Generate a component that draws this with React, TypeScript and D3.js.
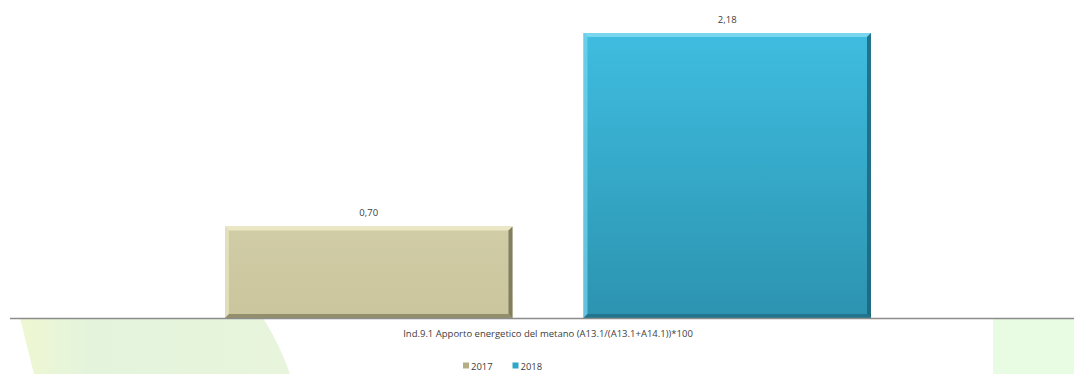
import React from "react";
import * as d3 from "d3";

const years = ["2017", "2018"];
const values = [0.7, 2.18];
const labels = ["0,70", "2,18"];
const category = "Ind.9.1 Apporto energetico del metano (A13.1/(A13.1+A14.1))*100";

const W = 1074;
const H = 374;
const FONT = "'Open Sans', 'Liberation Sans', sans-serif";

const palette: Record<string, { top: string; bottom: string; light: string; dark: string; legend: string }> = {
  "2017": { top: "#d0cca6", bottom: "#cac59c", light: "#ebe7c4", dark: "#6e6b4f", legend: "#b3ae86" },
  "2018": { top: "#3fbde0", bottom: "#2c93b0", light: "#7ad6ef", dark: "#1d6076", legend: "#2fa7c8" },
};

export default function App() {
  const x = d3.scaleBand<string>().domain(years).range([225, 871]).paddingInner(71 / 358.5);
  const y = d3.scaleLinear().domain([0, 2.18]).range([318, 33]);
  const b = 4;

  return (
    <svg width={W} height={H} style={{ position: "absolute", left: 0, top: 0, display: "block" }}>
      <defs>
        {years.map((yr) => (
          <linearGradient key={yr} id={`g${yr}`} x1="0" y1="0" x2="0" y2="1">
            <stop offset="0" stopColor={palette[yr].top} />
            <stop offset="1" stopColor={palette[yr].bottom} />
          </linearGradient>
        ))}
        <linearGradient id="gleft" x1="0" y1="0" x2="1" y2="0">
          <stop offset="0" stopColor="#eef7d2" />
          <stop offset="0.25" stopColor="#e4f4dc" />
          <stop offset="1" stopColor="#e8f5dc" />
        </linearGradient>
      </defs>
      <rect x={0} y={0} width={W} height={H} fill="#ffffff" />
      {/* background decoration */}
      <path d="M20,318 L263,318 Q280,345 290,374 L34,374 Z" fill="url(#gleft)" />
      <rect x={993} y={318} width={81} height={56} fill="#e8fbe3" />

      {/* bars */}
      {years.map((yr, i) => {
        const x0 = x(yr)!;
        const w = x.bandwidth();
        const y0 = y(values[i]);
        const y1 = y(0);
        const p = palette[yr];
        return (
          <g key={yr}>
            <rect x={x0} y={y0} width={w} height={y1 - y0} fill={`url(#g${yr})`} />
            <polygon points={`${x0},${y0} ${x0 + w},${y0} ${x0 + w - b},${y0 + b} ${x0 + b},${y0 + b}`} fill={p.light} />
            <polygon points={`${x0},${y0} ${x0 + b},${y0 + b} ${x0 + b},${y1 - b} ${x0},${y1}`} fill={p.light} opacity={0.7} />
            <polygon points={`${x0 + w},${y0} ${x0 + w},${y1} ${x0 + w - b},${y1 - b} ${x0 + w - b},${y0 + b}`} fill={p.dark} opacity={0.8} />
            <polygon points={`${x0},${y1} ${x0 + w},${y1} ${x0 + w - b},${y1 - b} ${x0 + b},${y1 - b}`} fill={p.dark} opacity={0.6} />
            <text x={x0 + w / 2} y={y0 - 10} textAnchor="middle" fontFamily={FONT} fontSize={9.5} fill="#404040">
              {labels[i]}
            </text>
          </g>
        );
      })}

      {/* axis */}
      <line x1={10} x2={W} y1={318.5} y2={318.5} stroke="#8c8c8c" strokeWidth={1.5} />
      <text x={548} y={337} textAnchor="middle" fontFamily={FONT} fontSize={9.5} fill="#404040">
        {category}
      </text>

      {/* legend */}
      {years.map((yr, i) => {
        const lx = 463 + i * 49.5;
        return (
          <g key={yr}>
            <rect x={lx} y={362.5} width={6} height={6} fill={palette[yr].legend} />
            <text x={lx + 8} y={370} fontFamily={FONT} fontSize={9.5} fill="#404040">
              {yr}
            </text>
          </g>
        );
      })}
    </svg>
  );
}
